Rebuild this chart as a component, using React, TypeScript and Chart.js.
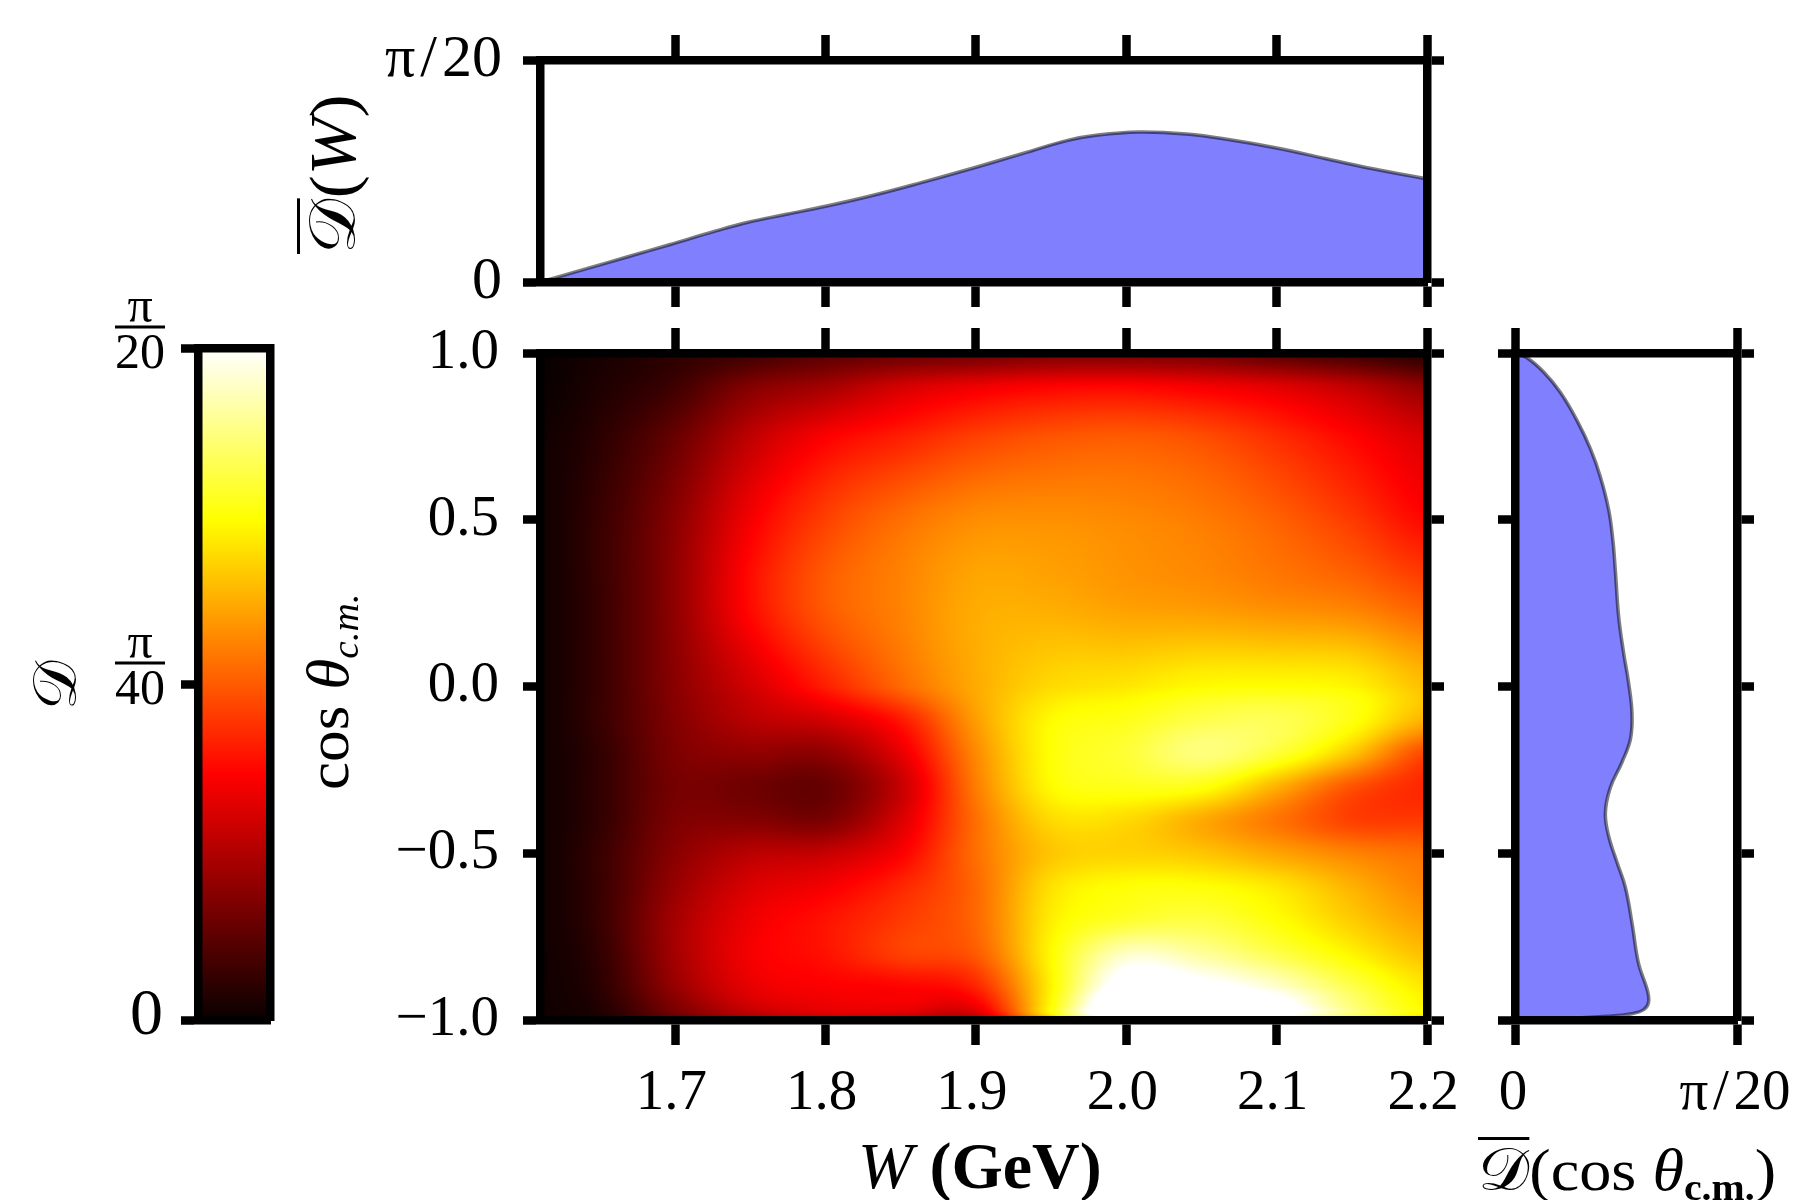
import React, { useEffect, useRef } from 'react';
import { Chart, registerables } from 'chart.js';

Chart.register(...registerables);

// all values are in units of pi/20
const wTicks = [1.7, 1.8, 1.9, 2.0, 2.1, 2.2];
const wLabels = ['1.7', '1.8', '1.9', '2.0', '2.1', '2.2'];
const cosTicks = [-1, -0.5, 0, 0.5, 1];
const cosLabels = ['\u22121.0', '\u22120.5', '0.0', '0.5', '1.0'];
const unitTicks = [0, 1];
const unitLabels = ['0', '\u03c0\u200a/\u200a20'];
const barTicks = [0, 0.5, 1];
const barLabels: any[] = [['\u20090', ''], ['\u03c0', '40', ''], ['\u03c0', '20', '']];

const marginW = [1.61, 1.641, 1.669, 1.696, 1.727, 1.747, 1.774, 1.8, 1.829, 1.86, 1.9, 1.934, 1.961, 1.981, 2.008, 2.04, 2.07, 2.1, 2.133, 2.164, 2.2];
const marginWValue = [0, 0.06, 0.115, 0.168, 0.23, 0.267, 0.305, 0.341, 0.386, 0.441, 0.517, 0.585, 0.638, 0.662, 0.676, 0.667, 0.64, 0.604, 0.555, 0.51, 0.464];

const marginCos = [1, 0.986, 0.943, 0.882, 0.798, 0.714, 0.63, 0.53, 0.438, 0.347, 0.209, 0.102, 0.01, -0.082, -0.158, -0.227, -0.304, -0.38, -0.449, -0.526, -0.602, -0.709, -0.832, -0.908, -0.946, -0.969, -0.982, -0.989, -0.995, -1];
const marginCosValue = [0, 0.054, 0.129, 0.204, 0.279, 0.339, 0.384, 0.422, 0.441, 0.452, 0.467, 0.489, 0.512, 0.527, 0.52, 0.482, 0.429, 0.407, 0.422, 0.459, 0.497, 0.527, 0.557, 0.595, 0.602, 0.58, 0.52, 0.414, 0.234, 0];

const heatW = [1.61, 1.65, 1.7, 1.75, 1.8, 1.85, 1.9, 1.95, 2.0, 2.05, 2.1, 2.15, 2.2];
const heatCos = [1, 0.9, 0.75, 0.5, 0.25, 0, -0.1, -0.2, -0.3, -0.4, -0.5, -0.6, -0.7, -0.8, -0.9, -0.95, -0.985, -1];
const heatValues = [
  [0, 0.02, 0.05, 0.08, 0.12, 0.14, 0.15, 0.17, 0.17, 0.16, 0.12, 0.08, 0.04],
  [0, 0.03, 0.08, 0.18, 0.23, 0.3, 0.34, 0.365, 0.37, 0.35, 0.32, 0.27, 0.2],
  [0.01, 0.05, 0.14, 0.27, 0.36, 0.41, 0.46, 0.49, 0.5, 0.48, 0.43, 0.37, 0.31],
  [0.01, 0.07, 0.19, 0.35, 0.46, 0.53, 0.575, 0.58, 0.57, 0.55, 0.51, 0.45, 0.375],
  [0.01, 0.07, 0.2, 0.38, 0.5, 0.56, 0.62, 0.62, 0.6, 0.59, 0.57, 0.55, 0.5],
  [0.01, 0.07, 0.19, 0.3, 0.41, 0.52, 0.62, 0.69, 0.71, 0.74, 0.745, 0.73, 0.65],
  [0.01, 0.07, 0.18, 0.26, 0.3, 0.4, 0.6, 0.74, 0.77, 0.82, 0.83, 0.76, 0.63],
  [0.01, 0.06, 0.17, 0.2, 0.2, 0.33, 0.57, 0.75, 0.8, 0.87, 0.8, 0.66, 0.47],
  [0.01, 0.06, 0.16, 0.15, 0.14, 0.28, 0.55, 0.74, 0.77, 0.76, 0.63, 0.49, 0.42],
  [0.01, 0.06, 0.17, 0.18, 0.17, 0.31, 0.53, 0.69, 0.69, 0.62, 0.54, 0.46, 0.45],
  [0.01, 0.07, 0.19, 0.26, 0.28, 0.36, 0.53, 0.66, 0.68, 0.66, 0.61, 0.56, 0.53],
  [0.01, 0.07, 0.21, 0.31, 0.35, 0.42, 0.52, 0.7, 0.75, 0.75, 0.71, 0.63, 0.56],
  [0.01, 0.07, 0.23, 0.34, 0.39, 0.45, 0.52, 0.72, 0.79, 0.81, 0.75, 0.67, 0.6],
  [0.01, 0.06, 0.23, 0.35, 0.39, 0.46, 0.5, 0.74, 0.94, 0.9, 0.82, 0.73, 0.65],
  [0.01, 0.05, 0.21, 0.33, 0.36, 0.37, 0.42, 0.73, 1.06, 1.03, 0.95, 0.82, 0.71],
  [0.01, 0.04, 0.18, 0.3, 0.34, 0.35, 0.36, 0.74, 1.15, 1.12, 1.03, 0.86, 0.73],
  [0.01, 0.03, 0.15, 0.25, 0.3, 0.3, 0.29, 0.72, 1.15, 1.13, 1.02, 0.85, 0.72],
  [0, 0.01, 0.05, 0.1, 0.12, 0.12, 0.12, 0.35, 0.55, 0.55, 0.55, 0.5, 0.45],
];

// matplotlib "hot": position, r, g, b
const hotStops = [
  [0, 10, 0, 0],
  [0.365, 255, 0, 0],
  [0.746, 255, 255, 0],
  [1, 255, 255, 255],
];

const SERIF = '"Liberation Serif"';
const SPINE = 8.5;
const FILL = '#8080ff';
const EDGE = 'rgba(0,0,0,0.5)';

function hot(v: number) {
  const t = Math.max(0, Math.min(1, v));
  for (let i = 1; i < hotStops.length; i++) {
    const a = hotStops[i - 1];
    const b = hotStops[i];
    if (t <= b[0]) {
      const f = (t - a[0]) / (b[0] - a[0]);
      return [a[1] + (b[1] - a[1]) * f, a[2] + (b[2] - a[2]) * f, a[3] + (b[3] - a[3]) * f];
    }
  }
  return [255, 255, 255];
}

function gridIndex(list: number[], v: number) {
  const up = list[1] > list[0];
  for (let i = 0; i < list.length - 1; i++) {
    const a = list[i];
    const b = list[i + 1];
    if (up ? v <= b : v >= b) return i + Math.max(0, Math.min(1, (v - a) / (b - a)));
  }
  return list.length - 1;
}

function cubic(p0: number, p1: number, p2: number, p3: number, t: number) {
  return p1 + 0.5 * t * (p2 - p0 + t * (2 * p0 - 5 * p1 + 4 * p2 - p3 + t * (3 * (p1 - p2) + p3 - p0)));
}

// shading between the grid values, like pcolormesh(shading='gouraud')
function shade(w: number, c: number) {
  const fx = gridIndex(heatW, w);
  const fy = gridIndex(heatCos, c);
  const ix = Math.min(Math.floor(fx), heatW.length - 2);
  const iy = Math.min(Math.floor(fy), heatCos.length - 2);
  const col: number[] = [];
  for (let j = -1; j <= 2; j++) {
    const row = heatValues[Math.max(0, Math.min(heatCos.length - 1, iy + j))];
    const at = (k: number) => row[Math.max(0, Math.min(heatW.length - 1, ix + k))];
    col.push(cubic(at(-1), at(0), at(1), at(2), fx - ix));
  }
  return cubic(col[0], col[1], col[2], col[3], fy - iy);
}

const heatPlugin = {
  id: 'heat',
  beforeDatasetsDraw(chart: any) {
    const { ctx, chartArea: a, scales } = chart;
    const w = Math.round(a.right - a.left);
    const h = Math.round(a.bottom - a.top);
    const off = document.createElement('canvas');
    off.width = w;
    off.height = h;
    const octx = off.getContext('2d') as CanvasRenderingContext2D;
    const img = octx.createImageData(w, h);
    for (let py = 0; py < h; py++) {
      const c = scales.y.getValueForPixel(a.top + py + 0.5);
      for (let px = 0; px < w; px++) {
        const W = scales.x.getValueForPixel(a.left + px + 0.5);
        const rgb = hot(shade(W, c));
        const k = (py * w + px) * 4;
        img.data[k] = rgb[0];
        img.data[k + 1] = rgb[1];
        img.data[k + 2] = rgb[2];
        img.data[k + 3] = 255;
      }
    }
    octx.putImageData(img, 0, 0);
    ctx.drawImage(off, a.left, a.top);
  },
};

// the rule of the pi/20 and pi/40 fractions on the colorbar
const fractionPlugin = {
  id: 'fraction',
  afterDraw(chart: any) {
    const { ctx, scales } = chart;
    const s = scales.y;
    ctx.save();
    ctx.strokeStyle = '#000';
    ctx.lineWidth = 3;
    s.ticks.forEach((t: any, i: number) => {
      if (barLabels[i].length < 3) return;
      const y = s.getPixelForTick(i) - 21;
      ctx.beginPath();
      ctx.moveTo(s.right - 83, y);
      ctx.lineTo(s.right - 33, y);
      ctx.stroke();
    });
    ctx.restore();
  },
};

type Box = { left: number; top: number; right: number; bottom: number };

function spine(side: string, size: number, o: any) {
  const horizontal = side === 'top' || side === 'bottom';
  const scale: any = {
    type: o.type || 'linear',
    axis: horizontal ? 'x' : 'y',
    position: side,
    afterFit: (s: any) => {
      if (horizontal) s.height = size;
      else s.width = size;
      s.paddingLeft = s.paddingRight = s.paddingTop = s.paddingBottom = 0;
    },
    grid: {
      drawOnChartArea: false,
      drawTicks: !!o.ticks,
      tickLength: o.tickLength,
      tickWidth: SPINE,
      tickColor: '#000',
      z: 2,
    },
    border: { display: true, color: '#000', width: SPINE, z: 2 },
    ticks: {
      display: !!o.labels,
      autoSkip: false,
      minRotation: 0,
      maxRotation: 0,
      color: '#000',
      padding: o.padding || 0,
      labelOffset: o.labelOffset || 0,
      crossAlign: o.crossAlign || 'near',
      font: o.font || { family: SERIF, size: 57 },
      callback: (_v: any, i: number) => (o.labels ? o.labels[i] : ''),
      z: 2,
    },
  };
  if (o.type !== 'category') {
    scale.min = o.min;
    scale.max = o.max;
  }
  if (o.ticks) {
    scale.afterBuildTicks = (s: any) => {
      s.ticks = o.ticks.map((value: number) => ({ value }));
    };
  }
  return scale;
}

function frame(box: Box, area: Box, x: any, y: any, xTop: any, yRight: any) {
  return {
    x: spine('bottom', box.bottom - area.bottom, x),
    y: spine('left', area.left - box.left, y),
    x2: spine('top', area.top - box.top, xTop),
    y2: spine('right', box.right - area.right, yRight),
  };
}

const baseOptions = {
  responsive: false,
  animation: false,
  events: [],
  layout: { padding: 0 },
  plugins: { legend: { display: false }, tooltip: { enabled: false } },
};

function Panel({ box, config }: { box: Box; config: any }) {
  const ref = useRef<HTMLCanvasElement>(null);
  useEffect(() => {
    const chart = new Chart(ref.current as HTMLCanvasElement, config);
    return () => chart.destroy();
  }, []);
  return (
    <canvas
      ref={ref}
      width={box.right - box.left}
      height={box.bottom - box.top}
      style={{ position: 'absolute', left: box.left, top: box.top, width: box.right - box.left, height: box.bottom - box.top }}
    />
  );
}

const topBox = { left: 380, top: 0, right: 1470, bottom: 320 };
const topArea = { left: 540, top: 60, right: 1427, bottom: 282 };
const mainBox = { left: 370, top: 312, right: 1470, bottom: 1140 };
const mainArea = { left: 540, top: 353, right: 1427, bottom: 1020 };
const sideBox = { left: 1475, top: 312, right: 1800, bottom: 1140 };
const sideArea = { left: 1515, top: 353, right: 1737, bottom: 1020 };
const barBox = { left: 90, top: 280, right: 300, bottom: 1060 };
const barArea = { left: 198, top: 348, right: 270, bottom: 1020 };

const W_RANGE = { min: 1.61, max: 2.2 };
const COS_RANGE = { min: -1, max: 1 };
const UNIT_RANGE = { min: 0, max: 1 };

const topConfig = {
  type: 'scatter',
  data: {
    datasets: [
      {
        data: marginW.map((x, i) => ({ x, y: marginWValue[i] })),
        showLine: true,
        pointRadius: 0,
        borderWidth: 3.5,
        borderColor: EDGE,
        backgroundColor: FILL,
        fill: 'origin',
        tension: 0.4,
      },
    ],
  },
  options: {
    ...baseOptions,
    scales: frame(
      topBox,
      topArea,
      { ...W_RANGE, ticks: wTicks, tickLength: 25 },
      { ...UNIT_RANGE, ticks: unitTicks, labels: unitLabels, tickLength: 17, padding: 21, font: { family: SERIF, size: 60 } },
      { ...W_RANGE, ticks: wTicks, tickLength: 25 },
      { ...UNIT_RANGE, ticks: unitTicks, tickLength: 17 },
    ),
  },
};

const mainConfig = {
  type: 'scatter',
  data: {
    datasets: [
      {
        data: heatCos.flatMap((y, r) => heatW.map((x, c) => ({ x, y, v: heatValues[r][c] }))),
        pointRadius: 0,
      },
    ],
  },
  options: {
    ...baseOptions,
    scales: frame(
      mainBox,
      mainArea,
      { ...W_RANGE, ticks: wTicks, labels: wLabels, tickLength: 25, padding: 15, labelOffset: -4 },
      { ...COS_RANGE, ticks: cosTicks, labels: cosLabels, tickLength: 17, padding: 24 },
      { ...W_RANGE, ticks: wTicks, tickLength: 25 },
      { ...COS_RANGE, ticks: cosTicks, tickLength: 17 },
    ),
  },
  plugins: [heatPlugin],
};

const sideConfig = {
  type: 'scatter',
  data: {
    datasets: [
      {
        data: marginCos.map((y, i) => ({ x: marginCosValue[i], y })),
        showLine: true,
        pointRadius: 0,
        borderWidth: 3.5,
        borderColor: EDGE,
        backgroundColor: FILL,
        fill: 'shape',
        tension: 0.4,
      },
    ],
  },
  options: {
    ...baseOptions,
    scales: frame(
      sideBox,
      sideArea,
      { ...UNIT_RANGE, ticks: unitTicks, labels: unitLabels, tickLength: 25, padding: 15, labelOffset: -2 },
      { ...COS_RANGE, ticks: cosTicks, tickLength: 17 },
      { ...UNIT_RANGE, ticks: unitTicks, tickLength: 25 },
      { ...COS_RANGE, ticks: cosTicks, tickLength: 17 },
    ),
  },
};

const barConfig = {
  type: 'bar',
  data: {
    labels: ['D'],
    datasets: [
      {
        data: [[0, 1]],
        barPercentage: 1,
        categoryPercentage: 1,
        borderWidth: 0,
        backgroundColor: (ctx: any) => {
          const { chartArea, scales } = ctx.chart;
          if (!chartArea) return '#000';
          const g = ctx.chart.ctx.createLinearGradient(0, scales.y.getPixelForValue(0), 0, scales.y.getPixelForValue(1));
          hotStops.forEach((h) => g.addColorStop(h[0], `rgb(${h[1]},${h[2]},${h[3]})`));
          return g;
        },
      },
    ],
  },
  options: {
    ...baseOptions,
    scales: frame(
      barBox,
      barArea,
      { type: 'category' },
      {
        ...UNIT_RANGE,
        ticks: barTicks,
        labels: barLabels,
        tickLength: 17,
        padding: 16,
        labelOffset: 7,
        crossAlign: 'center',
        font: (ctx: any) =>
          ctx.index === 0 ? { family: SERIF, size: 66, lineHeight: 0.3 } : { family: SERIF, size: 50, lineHeight: 0.92 },
      },
      { ...UNIT_RANGE },
      { ...UNIT_RANGE },
    ),
  },
  plugins: [fractionPlugin],
};

function Label({ x, y, size, rotate, scaleX, children }: any) {
  const transform = `translate(${x}px, ${y}px)` + (rotate ? ' rotate(-90deg)' : '') + (scaleX ? ` scaleX(${scaleX})` : '');
  return (
    <div
      style={{
        position: 'absolute',
        left: 0,
        top: 0,
        transformOrigin: '0 0',
        transform,
        whiteSpace: 'nowrap',
        fontFamily: SERIF,
        fontSize: size,
        lineHeight: 1,
        color: '#000',
      }}
    >
      {children}
    </div>
  );
}

const bar = { display: 'inline-block', borderTop: '3px solid #000' };
const sub = { fontSize: '0.62em', position: 'relative', top: '0.28em' } as any;

export default function App() {
  return (
    <div style={{ position: 'absolute', left: 0, top: 0, width: 1800, height: 1200, overflow: 'hidden', background: '#fff' }}>
      <Panel box={barBox} config={barConfig} />
      <Panel box={topBox} config={topConfig} />
      <Panel box={mainBox} config={mainConfig} />
      <Panel box={sideBox} config={sideConfig} />
      <Label x={297} y={254} size={66} rotate scaleX={1.05}>
        <span style={bar}>{'\u{1D49F}'}</span>(<i>W</i>)
      </Label>
      <Label x={298} y={790} size={60} rotate scaleX={1.055}>
        cos <i>{'\u03b8'}</i>
        <i style={sub}>c.m.</i>
      </Label>
      <Label x={24} y={710} size={62} rotate>
        {'\u{1D49F}'}
      </Label>
      <Label x={858} y={1133} size={66}>
        <i>W</i> <b>(GeV)</b>
      </Label>
      <Label x={1478} y={1137} size={60} scaleX={1.07}>
        <span style={bar}>{'\u{1D49F}'}</span>(cos <i>{'\u03b8'}</i>
        <b style={sub}>c.m.</b>)
      </Label>
    </div>
  );
}
